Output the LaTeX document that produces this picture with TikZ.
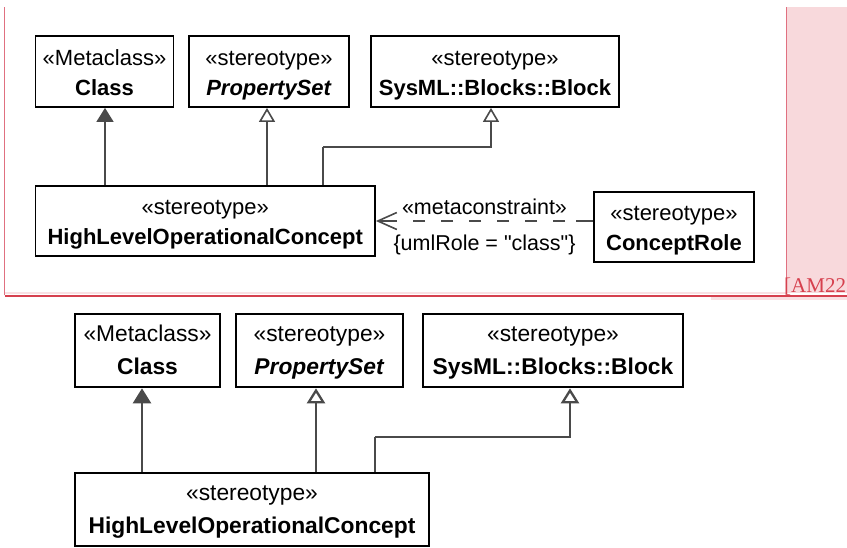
\documentclass[tikz,border=0pt]{standalone}
\usepackage{fontspec}
\setmainfont{Liberation Sans}
\newfontfamily\serifx{Liberation Serif}
\newfontfamily\qfont[Ligatures=TeXOff]{Liberation Sans}
\usetikzlibrary{arrows.meta}
\definecolor{conn}{HTML}{4A4A4A}
\definecolor{redln}{HTML}{D6404E}
\definecolor{redthin}{HTML}{E07080}
\definecolor{pinkbg}{HTML}{F8D9DC}
\definecolor{palepink}{HTML}{F9E0E3}
\newcommand\tstrut{\rule[-6.5pt]{0pt}{30pt}}
\newcommand\bstrut{\rule[-9.5pt]{0pt}{33pt}}
\tikzset{
  tbox/.style={draw=black, line width=1.8pt, minimum width=#1, minimum height=71pt,
    align=center, inner sep=0pt, font=\fontsize{22}{30}\selectfont},
  bbox/.style={draw=black, line width=2.6pt, minimum width=#1, minimum height=73pt,
    align=center, inner sep=0pt, font=\fontsize{22.8}{33}\selectfont},
  tgen/.style={draw=conn, line width=1.6pt},
  bgen/.style={draw=conn, line width=2.3pt},
  tfilled/.style={tgen, -{Triangle[length=14pt,width=17pt,fill=conn]}},
  topen/.style={tgen, -{Triangle[open,length=14pt,width=16pt,fill=white]}},
  bfilled/.style={bgen, -{Triangle[length=15pt,width=18pt,fill=conn]}},
  bopen/.style={bgen, -{Triangle[open,length=15pt,width=18pt,fill=white]}},
  lbl/.style={inner sep=0pt, font=\fontsize{21.5}{26}\selectfont},
}
\begin{document}
\begin{tikzpicture}[x=1pt,y=-1pt]
\useasboundingbox (0,0) rectangle (847,547);
\fill[white] (0,0) rectangle (847,547);
% red frame of the excerpt
\fill[pinkbg] (786,7) rectangle (847,293);
\draw[redthin, line width=1pt] (786,7) -- (786,294);
\draw[redthin, line width=1.2pt] (4.5,7) -- (4.5,295);
\fill[palepink] (5,291.5) rectangle (786,294);
\fill[palepink] (711,297) rectangle (847,300);
\draw[redln, line width=2pt] (4.5,295.5) -- (847,295.5);
\node[anchor=base west, inner sep=0pt, text=redln, font=\serifx\fontsize{21}{24}\selectfont] (cite) at (784,292) {[AM22};

% ---------------- top diagram ----------------
\node[tbox=138pt] (tClass) at (104.5,71.5) {\tstrut«Metaclass»\\\tstrut\textbf{Class}};
\node[tbox=160pt] (tPS) at (269,71.5) {\tstrut«stereotype»\\\tstrut\textbf{\textit{PropertySet}}};
\node[tbox=248pt] (tBlock) at (495,71.5) {\tstrut«stereotype»\\\tstrut\textbf{SysML::Blocks::Block}};
\node[tbox=339.5pt, minimum height=70pt] (tHL) at (205.25,221) {\tstrut«stereotype»\\\tstrut\textbf{HighLevelOperationalConcept}};
\node[tbox=160pt, minimum height=70pt] (tCR) at (674,227) {\tstrut«stereotype»\\\tstrut\textbf{ConceptRole}};

\coordinate (tca) at ([xshift=0.5pt]tClass.south);
\coordinate (tpa) at ([xshift=-2pt]tPS.south);
\coordinate (tba) at ([xshift=-4pt]tBlock.south);
\coordinate (thb) at ([xshift=117.75pt]tHL.north);
\draw[tfilled] (tca |- tHL.north) -- (tca);
\draw[topen] (tpa |- tHL.north) -- (tpa);
\draw[tgen] (thb) -- ++(0,-38) coordinate (tbend);
\draw[topen] (tbend) -| (tba);
\draw[tgen, dash pattern=on 17pt off 11pt on 12pt off 16pt on 12pt off 16pt on 12pt off 16pt on 12pt off 16pt on 12pt off 16pt on 12pt off 16pt,
  -{Straight Barb[length=19pt,width=17pt]}] (tCR.west |- tHL.east) -- (tHL.east);
\node[lbl, anchor=base] (mc) at (484.5,214) {«metaconstraint»};
\node[lbl, anchor=base] (ur) at (484.5,250) {\qfont\{umlRole = "class"\}};

% ---------------- bottom diagram ----------------
\node[bbox=145pt] (bClass) at (147.5,350.5) {\bstrut«Metaclass»\\\bstrut\textbf{Class}};
\node[bbox=167pt] (bPS) at (319.5,350.5) {\bstrut«stereotype»\\\bstrut\textbf{\textit{PropertySet}}};
\node[bbox=260pt] (bBlock) at (553,350.5) {\bstrut«stereotype»\\\bstrut\textbf{SysML::Blocks::Block}};
\node[bbox=354pt] (bHL) at (252,509.5) {\bstrut«stereotype»\\\bstrut\textbf{HighLevelOperationalConcept}};

\coordinate (bca) at ([xshift=-5.5pt]bClass.south);
\coordinate (bpa) at ([xshift=-3.5pt]bPS.south);
\coordinate (bba) at ([xshift=17pt]bBlock.south);
\coordinate (bhb) at ([xshift=123pt]bHL.north);
\draw[bfilled] (bca |- bHL.north) -- (bca);
\draw[bopen] (bpa |- bHL.north) -- (bpa);
\draw[bgen] (bhb) -- ++(0,-35) coordinate (bbend);
\draw[bopen] (bbend) -| (bba);
\end{tikzpicture}
\end{document}
